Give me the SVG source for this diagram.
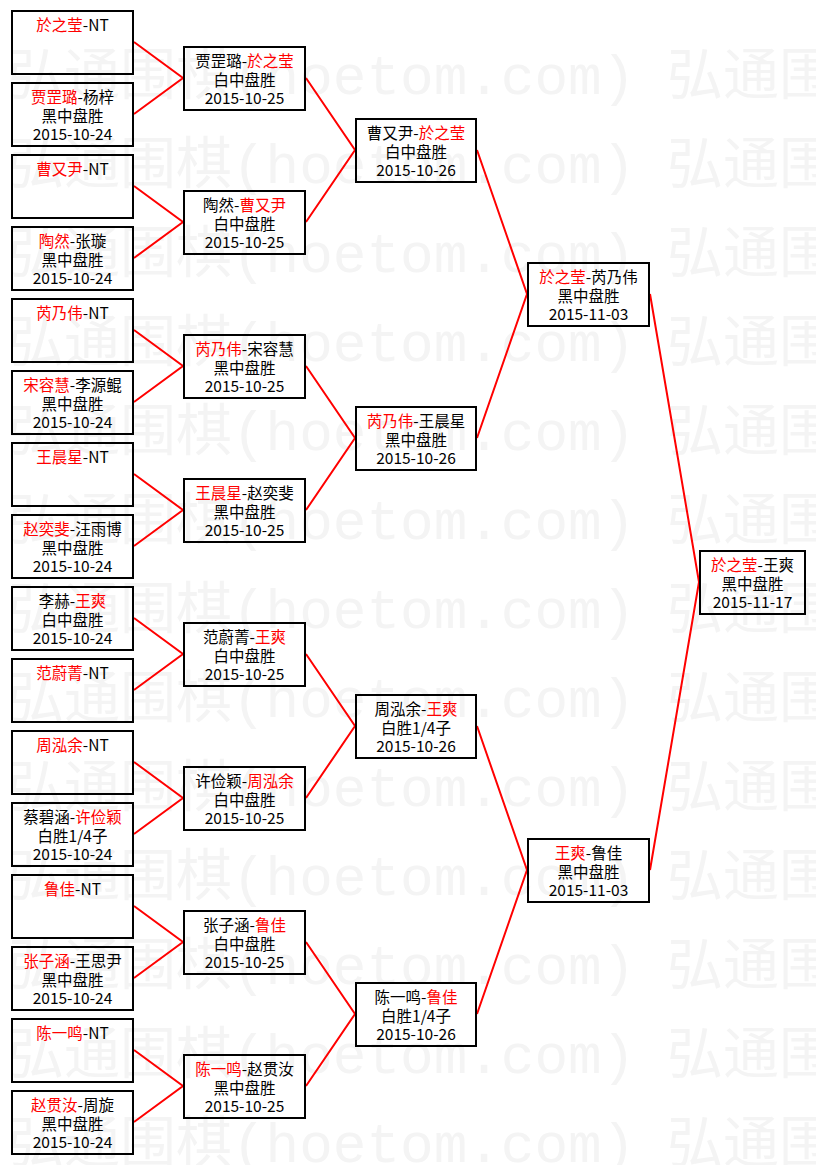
<svg xmlns="http://www.w3.org/2000/svg" width="816" height="1165" viewBox="0 0 816 1165">
<style>
.wm{font-family:"Liberation Mono","Noto Sans CJK SC",monospace;font-size:56px;fill:#f4f4f4}
.box{fill:none;stroke:#000;stroke-width:2}
.t{font-family:"Noto Sans CJK SC","Noto Sans CJK JP",sans-serif;font-size:15.5px;text-anchor:middle;fill:#000}
.r{fill:#f00}
.c{fill:none;stroke:#f00;stroke-width:2}
</style>
<rect x="0" y="0" width="816" height="1165" fill="#fff"/>
<g id="watermark" class="wm">
<text x="8" y="94">弘通围棋(hoetom.com)</text><text x="667" y="94">弘通围</text>
<text x="8" y="183">弘通围棋(hoetom.com)</text><text x="667" y="183">弘通围</text>
<text x="8" y="272">弘通围棋(hoetom.com)</text><text x="667" y="272">弘通围</text>
<text x="8" y="361">弘通围棋(hoetom.com)</text><text x="667" y="361">弘通围</text>
<text x="8" y="450">弘通围棋(hoetom.com)</text><text x="667" y="450">弘通围</text>
<text x="8" y="539">弘通围棋(hoetom.com)</text><text x="667" y="539">弘通围</text>
<text x="8" y="628">弘通围棋(hoetom.com)</text><text x="667" y="628">弘通围</text>
<text x="8" y="717">弘通围棋(hoetom.com)</text><text x="667" y="717">弘通围</text>
<text x="8" y="806">弘通围棋(hoetom.com)</text><text x="667" y="806">弘通围</text>
<text x="8" y="895">弘通围棋(hoetom.com)</text><text x="667" y="895">弘通围</text>
<text x="8" y="984">弘通围棋(hoetom.com)</text><text x="667" y="984">弘通围</text>
<text x="8" y="1073">弘通围棋(hoetom.com)</text><text x="667" y="1073">弘通围</text>
<text x="8" y="1162">弘通围棋(hoetom.com)</text><text x="667" y="1162">弘通围</text>
</g>
<g id="connectors" class="c">
<polyline points="134,42 183,78 134,114"/>
<polyline points="134,186 183,222 134,258"/>
<polyline points="134,330 183,366 134,402"/>
<polyline points="134,474 183,510 134,546"/>
<polyline points="134,618 183,654 134,690"/>
<polyline points="134,762 183,798 134,834"/>
<polyline points="134,906 183,942 134,978"/>
<polyline points="134,1050 183,1086 134,1122"/>
<polyline points="306,78 355,150 306,222"/>
<polyline points="306,366 355,438 306,510"/>
<polyline points="306,654 355,726 306,798"/>
<polyline points="306,942 355,1014 306,1086"/>
<polyline points="477,150 527,294 477,438"/>
<polyline points="477,726 527,870 477,1014"/>
<polyline points="650,294 699,582 650,870"/>
</g>
<g id="r1-1"><rect class="box" x="12" y="11" width="121" height="63"/><text class="t" x="72.5" y="31"><tspan class="r">於之莹</tspan>-NT</text></g>
<g id="r1-2"><rect class="box" x="12" y="83" width="121" height="63"/><text class="t" x="72.5" y="103"><tspan class="r">贾罡璐</tspan>-杨梓</text><text class="t" x="72.5" y="122">黑中盘胜</text><text class="t" x="72.5" y="140">2015-10-24</text></g>
<g id="r1-3"><rect class="box" x="12" y="155" width="121" height="63"/><text class="t" x="72.5" y="175"><tspan class="r">曹又尹</tspan>-NT</text></g>
<g id="r1-4"><rect class="box" x="12" y="227" width="121" height="63"/><text class="t" x="72.5" y="247"><tspan class="r">陶然</tspan>-张璇</text><text class="t" x="72.5" y="266">黑中盘胜</text><text class="t" x="72.5" y="284">2015-10-24</text></g>
<g id="r1-5"><rect class="box" x="12" y="299" width="121" height="63"/><text class="t" x="72.5" y="319"><tspan class="r">芮乃伟</tspan>-NT</text></g>
<g id="r1-6"><rect class="box" x="12" y="371" width="121" height="63"/><text class="t" x="72.5" y="391"><tspan class="r">宋容慧</tspan>-李源鲲</text><text class="t" x="72.5" y="410">黑中盘胜</text><text class="t" x="72.5" y="428">2015-10-24</text></g>
<g id="r1-7"><rect class="box" x="12" y="443" width="121" height="63"/><text class="t" x="72.5" y="463"><tspan class="r">王晨星</tspan>-NT</text></g>
<g id="r1-8"><rect class="box" x="12" y="515" width="121" height="63"/><text class="t" x="72.5" y="535"><tspan class="r">赵奕斐</tspan>-汪雨博</text><text class="t" x="72.5" y="554">黑中盘胜</text><text class="t" x="72.5" y="572">2015-10-24</text></g>
<g id="r1-9"><rect class="box" x="12" y="587" width="121" height="63"/><text class="t" x="72.5" y="607">李赫-<tspan class="r">王爽</tspan></text><text class="t" x="72.5" y="626">白中盘胜</text><text class="t" x="72.5" y="644">2015-10-24</text></g>
<g id="r1-10"><rect class="box" x="12" y="659" width="121" height="63"/><text class="t" x="72.5" y="679"><tspan class="r">范蔚菁</tspan>-NT</text></g>
<g id="r1-11"><rect class="box" x="12" y="731" width="121" height="63"/><text class="t" x="72.5" y="751"><tspan class="r">周泓余</tspan>-NT</text></g>
<g id="r1-12"><rect class="box" x="12" y="803" width="121" height="63"/><text class="t" x="72.5" y="823">蔡碧涵-<tspan class="r">许俭颖</tspan></text><text class="t" x="72.5" y="842">白胜1/4子</text><text class="t" x="72.5" y="860">2015-10-24</text></g>
<g id="r1-13"><rect class="box" x="12" y="875" width="121" height="63"/><text class="t" x="72.5" y="895"><tspan class="r">鲁佳</tspan>-NT</text></g>
<g id="r1-14"><rect class="box" x="12" y="947" width="121" height="63"/><text class="t" x="72.5" y="967"><tspan class="r">张子涵</tspan>-王思尹</text><text class="t" x="72.5" y="986">黑中盘胜</text><text class="t" x="72.5" y="1004">2015-10-24</text></g>
<g id="r1-15"><rect class="box" x="12" y="1019" width="121" height="63"/><text class="t" x="72.5" y="1039"><tspan class="r">陈一鸣</tspan>-NT</text></g>
<g id="r1-16"><rect class="box" x="12" y="1091" width="121" height="63"/><text class="t" x="72.5" y="1111"><tspan class="r">赵贯汝</tspan>-周旋</text><text class="t" x="72.5" y="1130">黑中盘胜</text><text class="t" x="72.5" y="1148">2015-10-24</text></g>
<g id="r2-1"><rect class="box" x="184" y="47" width="121" height="63"/><text class="t" x="244.5" y="67">贾罡璐-<tspan class="r">於之莹</tspan></text><text class="t" x="244.5" y="86">白中盘胜</text><text class="t" x="244.5" y="104">2015-10-25</text></g>
<g id="r2-2"><rect class="box" x="184" y="191" width="121" height="63"/><text class="t" x="244.5" y="211">陶然-<tspan class="r">曹又尹</tspan></text><text class="t" x="244.5" y="230">白中盘胜</text><text class="t" x="244.5" y="248">2015-10-25</text></g>
<g id="r2-3"><rect class="box" x="184" y="335" width="121" height="63"/><text class="t" x="244.5" y="355"><tspan class="r">芮乃伟</tspan>-宋容慧</text><text class="t" x="244.5" y="374">黑中盘胜</text><text class="t" x="244.5" y="392">2015-10-25</text></g>
<g id="r2-4"><rect class="box" x="184" y="479" width="121" height="63"/><text class="t" x="244.5" y="499"><tspan class="r">王晨星</tspan>-赵奕斐</text><text class="t" x="244.5" y="518">黑中盘胜</text><text class="t" x="244.5" y="536">2015-10-25</text></g>
<g id="r2-5"><rect class="box" x="184" y="623" width="121" height="63"/><text class="t" x="244.5" y="643">范蔚菁-<tspan class="r">王爽</tspan></text><text class="t" x="244.5" y="662">白中盘胜</text><text class="t" x="244.5" y="680">2015-10-25</text></g>
<g id="r2-6"><rect class="box" x="184" y="767" width="121" height="63"/><text class="t" x="244.5" y="787">许俭颖-<tspan class="r">周泓余</tspan></text><text class="t" x="244.5" y="806">白中盘胜</text><text class="t" x="244.5" y="824">2015-10-25</text></g>
<g id="r2-7"><rect class="box" x="184" y="911" width="121" height="63"/><text class="t" x="244.5" y="931">张子涵-<tspan class="r">鲁佳</tspan></text><text class="t" x="244.5" y="950">白中盘胜</text><text class="t" x="244.5" y="968">2015-10-25</text></g>
<g id="r2-8"><rect class="box" x="184" y="1055" width="121" height="63"/><text class="t" x="244.5" y="1075"><tspan class="r">陈一鸣</tspan>-赵贯汝</text><text class="t" x="244.5" y="1094">黑中盘胜</text><text class="t" x="244.5" y="1112">2015-10-25</text></g>
<g id="r3-1"><rect class="box" x="356" y="119" width="120" height="63"/><text class="t" x="416" y="139">曹又尹-<tspan class="r">於之莹</tspan></text><text class="t" x="416" y="158">白中盘胜</text><text class="t" x="416" y="176">2015-10-26</text></g>
<g id="r3-2"><rect class="box" x="356" y="407" width="120" height="63"/><text class="t" x="416" y="427"><tspan class="r">芮乃伟</tspan>-王晨星</text><text class="t" x="416" y="446">黑中盘胜</text><text class="t" x="416" y="464">2015-10-26</text></g>
<g id="r3-3"><rect class="box" x="356" y="695" width="120" height="63"/><text class="t" x="416" y="715">周泓余-<tspan class="r">王爽</tspan></text><text class="t" x="416" y="734">白胜1/4子</text><text class="t" x="416" y="752">2015-10-26</text></g>
<g id="r3-4"><rect class="box" x="356" y="983" width="120" height="63"/><text class="t" x="416" y="1003">陈一鸣-<tspan class="r">鲁佳</tspan></text><text class="t" x="416" y="1022">白胜1/4子</text><text class="t" x="416" y="1040">2015-10-26</text></g>
<g id="r4-1"><rect class="box" x="528" y="263" width="121" height="63"/><text class="t" x="588.5" y="283"><tspan class="r">於之莹</tspan>-芮乃伟</text><text class="t" x="588.5" y="302">黑中盘胜</text><text class="t" x="588.5" y="320">2015-11-03</text></g>
<g id="r4-2"><rect class="box" x="528" y="839" width="121" height="63"/><text class="t" x="588.5" y="859"><tspan class="r">王爽</tspan>-鲁佳</text><text class="t" x="588.5" y="878">黑中盘胜</text><text class="t" x="588.5" y="896">2015-11-03</text></g>
<g id="final"><rect class="box" x="700" y="551" width="105" height="63"/><text class="t" x="752.5" y="571"><tspan class="r">於之莹</tspan>-王爽</text><text class="t" x="752.5" y="590">黑中盘胜</text><text class="t" x="752.5" y="608">2015-11-17</text></g>
</svg>
